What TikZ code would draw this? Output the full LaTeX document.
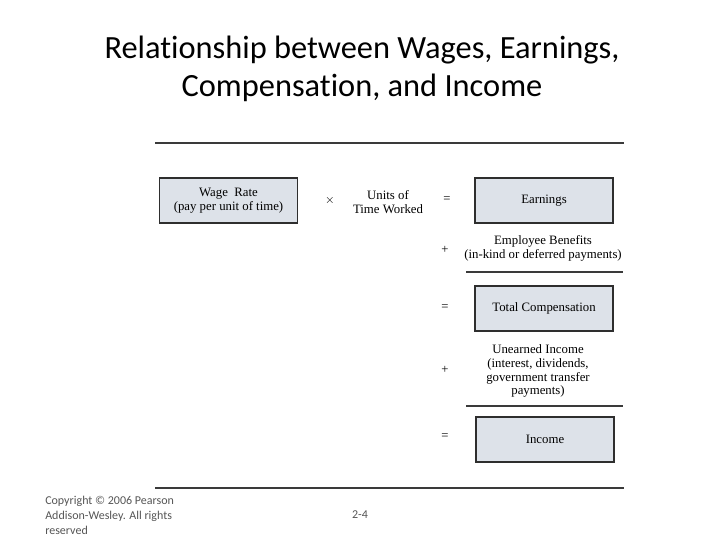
\documentclass[tikz,border=0pt]{standalone}
\usepackage{fontspec}
\setmainfont{Liberation Serif}
\newfontfamily\titlefont[Ligatures={NoCommon}]{Carlito}
\definecolor{boxfill}{HTML}{DDE2E9}
\definecolor{boxline}{HTML}{2E2E2E}
\definecolor{rulecol}{HTML}{3A3A3A}
\definecolor{footcol}{HTML}{555555}
\tikzset{
  valbox/.style={draw=boxline, line width=1.3pt, fill=boxfill, minimum width=103.5pt, minimum height=33.75pt, inner sep=0pt, align=center, font=\fontsize{9.6}{10.6}\selectfont},
  lbl/.style={align=center, inner sep=0pt, font=\fontsize{9.6}{10.4}\selectfont},
  opsym/.style={inner sep=0pt, font=\fontsize{9.5}{10}\selectfont},
  hrule/.style={draw=rulecol, line width=1.3pt},
  foot/.style={inner sep=0pt, text=footcol, font=\titlefont\fontsize{9}{11.25}\selectfont, align=left}
}
\begin{document}
\begin{tikzpicture}[x=0.75pt,y=-0.75pt]
\useasboundingbox (0,0) rectangle (720,540);
\node[align=center, inner sep=0pt, font=\titlefont\fontsize{24.3}{28.5}\selectfont] (title) at (362,69) {Relationship between Wages, Earnings,\\Compensation, and Income};
% rules
\coordinate (t1) at (155,143); \coordinate (t2) at (624,143);
\draw[hrule] (t1) -- (t2);
\coordinate (b1) at (155,488); \coordinate (b2) at (624,488);
\draw[hrule] (b1) -- (b2);
\coordinate (m1a) at (466,272); \coordinate (m1b) at (623,272);
\draw[hrule] (m1a) -- (m1b);
\coordinate (m2a) at (466,406); \coordinate (m2b) at (623,406);
\draw[hrule] (m2a) -- (m2b);
% boxes
\node[valbox] (wage) at (228.5,200.5) {Wage\ \ Rate\\(pay per unit of time)};
\node[opsym] (times) at (330,200) {$\times$};
\node[lbl] (units) at (388,202) {Units of\\Time Worked};
\node[opsym] (eq1) at (447,200) {=};
\node[valbox] (earn) at (544,200.5) {Earnings};
\node[opsym] (plus1) at (445,250) {+};
\node[lbl] (ben) at (543,248) {Employee Benefits\\(in-kind or deferred payments)};
\node[opsym] (eq2) at (445,308) {=};
\node[valbox] (comp) at (544,308.5) {Total Compensation};
\node[opsym] (plus2) at (445,370) {+};
\node[lbl] (unearn) at (538,371) {Unearned Income\\(interest, dividends,\\government transfer\\payments)};
\node[opsym] (eq3) at (445,437) {=};
\node[valbox] (inc) at (545,439.5) {Income};
% footer
\node[foot, anchor=west] (copy) at (45,515) {Copyright \copyright{} 2006 Pearson\\Addison-Wesley. All rights\\reserved};
\node[foot] (page) at (360,515) {2-4};
\end{tikzpicture}
\end{document}
